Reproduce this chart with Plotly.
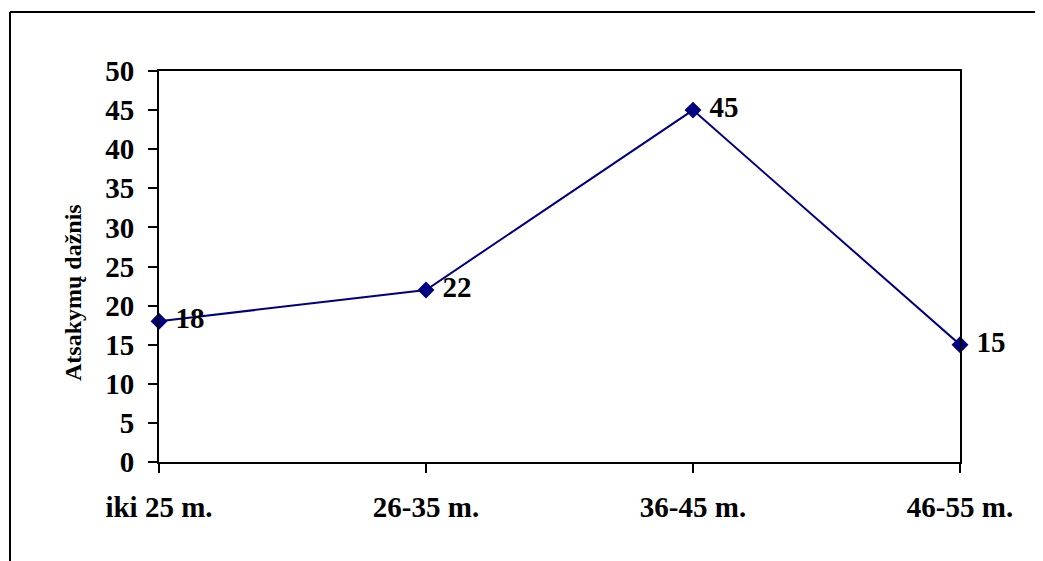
import plotly.graph_objects as go

categories = ["iki 25 m.", "26-35 m.", "36-45 m.", "46-55 m."]
values = [18, 22, 45, 15]
y_ticks = [0, 5, 10, 15, 20, 25, 30, 35, 40, 45, 50]
y_title = "Atsakymų dažnis"

# page body has an 8px margin, so the figure is drawn at (8, 8)
OFF = 8
W, H = 1043 - OFF, 561 - OFF
L, T = 159 - OFF, 71 - OFF
R = W - (960 - OFF)
B = H - (462 - OFF)
pw, ph = W - L - R, H - T - B

def px_x(px):
    return (px - OFF - L) / pw

def px_y(py):
    return (H - B - (py - OFF)) / ph

FONT = "Times New Roman, Liberation Serif, serif"
NAVY = "#000080"
TICK_SIZE = 29

fig = go.Figure()
fig.add_trace(go.Scatter(
    x=categories, y=values,
    mode="lines+markers+text",
    line=dict(color=NAVY, width=2),
    marker=dict(symbol="diamond", size=13, color=NAVY),
    text=[" " + str(v) for v in values],
    textposition="middle right",
    textfont=dict(family=FONT, size=TICK_SIZE, color="black", weight="bold"),
    cliponaxis=False,
    showlegend=False,
))

fig.update_layout(
    width=W, height=H,
    margin=dict(l=L, r=R, t=T, b=B, pad=0),
    paper_bgcolor="white", plot_bgcolor="white",
    xaxis=dict(
        type="category", range=[0, 3],
        showgrid=False, zeroline=False,
        showline=True, linecolor="black", linewidth=2, mirror=True,
        ticks="outside", ticklen=9, tickwidth=2, tickcolor="black",
        tickfont=dict(family=FONT, size=TICK_SIZE, color="black", weight="bold"),
        ticklabelstandoff=9,
    ),
    yaxis=dict(
        range=[0, 50], tickvals=y_ticks,
        showgrid=False, zeroline=False,
        showline=True, linecolor="black", linewidth=2, mirror=True,
        ticks="outside", ticklen=9, tickwidth=2, tickcolor="black",
        tickfont=dict(family=FONT, size=TICK_SIZE, color="black", weight="bold"),
        ticklabelstandoff=8,
    ),
    annotations=[dict(
        text=y_title, textangle=-90,
        xref="paper", yref="paper",
        x=px_x(73), y=px_y(293), xanchor="center", yanchor="middle",
        showarrow=False,
        font=dict(family=FONT, size=24, color="black", weight="bold"),
    )],
    shapes=[
        dict(type="line", xref="paper", yref="paper",
             x0=px_x(10), x1=px_x(1060), y0=px_y(12), y1=px_y(12),
             line=dict(color="black", width=2)),
        dict(type="line", xref="paper", yref="paper",
             x0=px_x(10), x1=px_x(10), y0=px_y(12), y1=px_y(580),
             line=dict(color="black", width=2)),
    ],
)

fig.write_html("out.html")
